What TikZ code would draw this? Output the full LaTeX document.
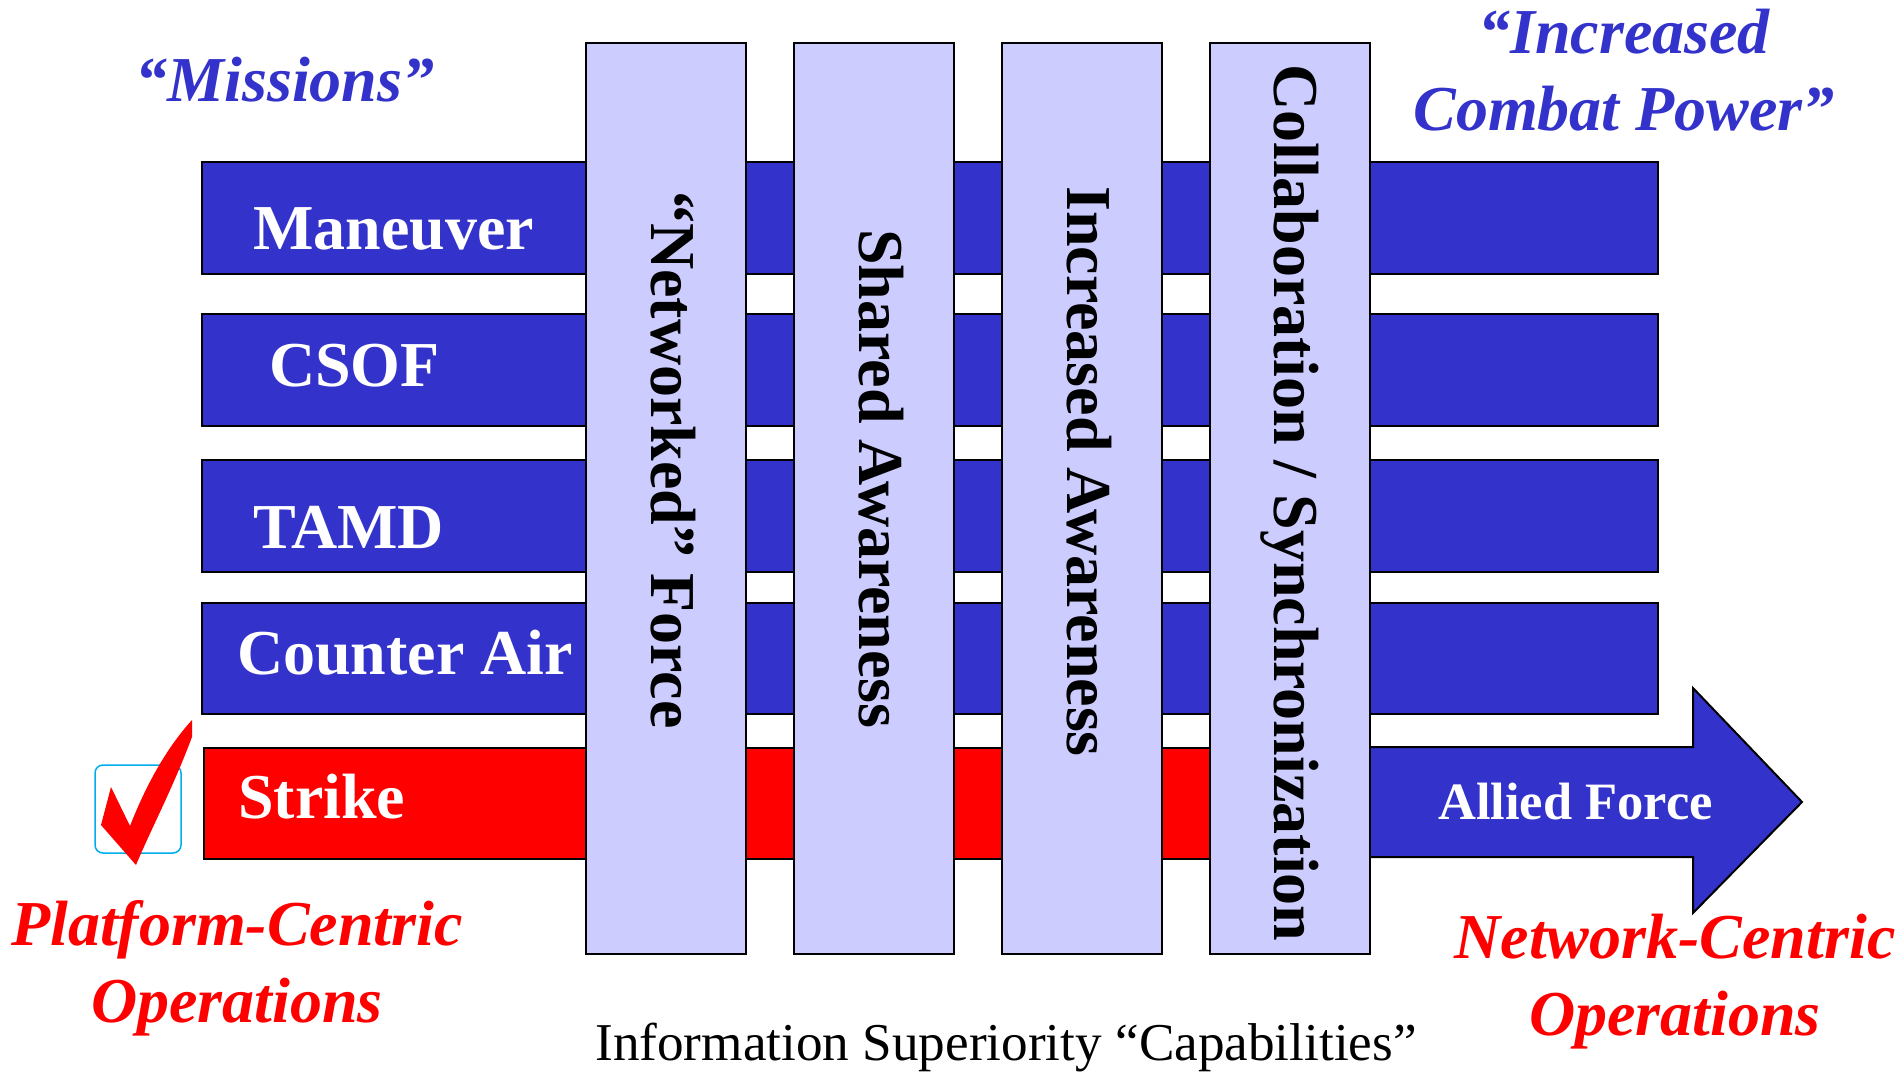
\documentclass[tikz,border=0pt]{standalone}
\usepackage{fontspec}
\setmainfont{Liberation Serif}
\definecolor{barblue}{RGB}{51,51,204}
\definecolor{lav}{RGB}{204,204,255}
\begin{document}
\begin{tikzpicture}[x=1pt,y=-1pt,
  bar/.style={fill=barblue,draw=black,line width=2pt},
  strikebar/.style={fill=red,draw=black,line width=2pt},
  colbox/.style={fill=lav,draw=black,line width=2pt},
  barlabel/.style={text=white,font=\fontsize{64}{77}\selectfont\bfseries,inner sep=0pt,anchor=base west},
  collabel/.style={text=black,font=\fontsize{64}{77}\selectfont\bfseries,inner sep=0pt,anchor=base west,rotate=-90},
  bluehead/.style={text=barblue,font=\fontsize{64}{77}\selectfont\bfseries\itshape,inner sep=0pt,anchor=base},
  redhead/.style={text=red,font=\fontsize{64}{77}\selectfont\bfseries\itshape,inner sep=0pt,anchor=base},
]
\useasboundingbox (0,0) rectangle (1903,1076);
\fill[white] (0,0) rectangle (1903,1076);

% mission bars
\draw[bar] (201.5,162) rectangle (1658,274);
\draw[bar] (201.5,314) rectangle (1658,426);
\draw[bar] (201.5,460) rectangle (1658,572);
\draw[bar] (201.5,603) rectangle (1658,714);
\draw[strikebar] (204,748) rectangle (1290,859);

% arrow
\draw[bar,line join=miter] (1369,747) -- (1693,747) -- (1693,688) -- (1802,802)
  -- (1693,913) -- (1693,857) -- (1369,857) -- cycle;

% capability columns
\draw[colbox] (586,43) rectangle (746,954);
\draw[colbox] (794,43) rectangle (954,954);
\draw[colbox] (1002,43) rectangle (1162,954);
\draw[colbox] (1209.5,43) rectangle (1369.5,954);

% column labels
\node[collabel] (netforce) at (651,191) {``Networked'' Force};
\node[collabel] (shared) at (859,229) {Shared Awareness};
\node[collabel] (incaware) at (1067,186) {Increased Awareness};
\node[collabel] (collab) at (1274.5,64) {Collaboration / Synchronization};

% bar labels
\node[barlabel] (maneuver) at (253,249) {Maneuver};
\node[barlabel] (csof) at (269,386) {CSOF};
\node[barlabel] (tamd) at (253,548) {TAMD};
\node[barlabel] (counterair) at (237,674) {Counter Air};
\node[barlabel] (strike) at (238,818) {Strike};
\node[barlabel,font=\fontsize{52.5}{62}\selectfont\bfseries] (allied) at (1438,819) {Allied Force};

% headings
\node[bluehead] (missions) at (285,101) {``Missions''};
\node[bluehead] (icp1) at (1624,53) {``Increased};
\node[bluehead] (icp2) at (1624,130) {Combat Power''};
\node[redhead] (pco1) at (237,945) {Platform-Centric};
\node[redhead] (pco2) at (237,1022) {Operations};
\node[redhead] (nco1) at (1675,958) {Network-Centric};
\node[redhead] (nco2) at (1675,1035) {Operations};
\node[text=black,font=\fontsize{53.2}{63}\selectfont,inner sep=0pt,anchor=base] (isc) at (1006,1060) {Information Superiority ``Capabilities''};

% check box and mark
\draw[cyan,line width=1.5pt,rounded corners=8pt] (95,765) rectangle (181,853);
\fill[red] (101,825) -- (111,787) -- (130,826) .. controls (150,775) and (172,742) .. (192,720)
  -- (192,737) .. controls (172,790) and (152,827) .. (136,865) -- cycle;
\end{tikzpicture}
\end{document}
